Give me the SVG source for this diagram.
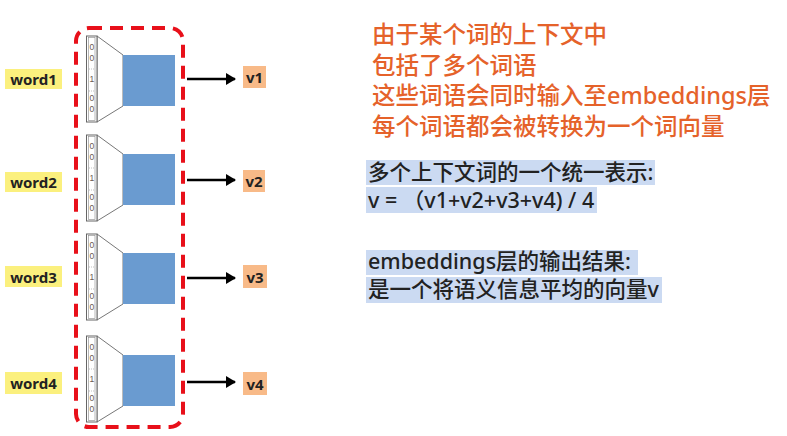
<svg xmlns="http://www.w3.org/2000/svg" xmlns:xlink="http://www.w3.org/1999/xlink" width="787" height="436" viewBox="0 0 787 436">
<style>
.lbl{font-family:"Noto Sans","Noto Sans CJK SC",sans-serif;font-weight:bold;font-size:15px;fill:#222;text-anchor:middle;dominant-baseline:central}
.wbox{fill:#FBF07E}
.vbox{fill:#F8BA88}
.bit{font-family:"Liberation Sans",sans-serif;font-size:8.5px;fill:#6a5a50;text-anchor:middle;dominant-baseline:central}
.orange{font-family:"Noto Sans","Noto Sans CJK SC",sans-serif;font-size:23.5px;font-weight:500;fill:#E5622A}
.black{font-family:"Noto Sans","Noto Sans CJK SC",sans-serif;font-size:21.5px;font-weight:500;fill:#222}
.hl{fill:#CBDAF2}
.conn{stroke:#000;stroke-width:2.5;fill:none}
</style>
<defs>
<marker id="ah" markerWidth="11" markerHeight="12" refX="9" refY="6" orient="auto" markerUnits="userSpaceOnUse">
<path d="M0,0 L10,6 L0,12 Z" fill="#000"/>
</marker>
<g id="enc">
<polygon points="97,0 123,19 123,70 97,86" fill="#fff" stroke="#777" stroke-width="1"/>
<rect x="123" y="19" width="52" height="51" fill="#6A9BD0"/>
<rect x="86.5" y="0" width="10.5" height="86" fill="#fff" stroke="#666" stroke-width="1"/>
<rect x="88.5" y="1.5" width="6.5" height="83" fill="none" stroke="#888" stroke-width="0.6"/>
<text class="bit" x="91.8" y="11">0</text>
<text class="bit" x="91.8" y="22">0</text>
<line x1="89" y1="33" x2="95" y2="33" stroke="#999" stroke-width="0.6" stroke-dasharray="1,1"/>
<text class="bit" x="91.8" y="43">1</text>
<line x1="89" y1="55" x2="95" y2="55" stroke="#999" stroke-width="0.6" stroke-dasharray="1,1"/>
<text class="bit" x="91.8" y="62">0</text>
<text class="bit" x="91.8" y="73">0</text>
</g>
</defs>
<rect width="787" height="436" fill="#fff"/>
<g id="node-word1"><rect class="wbox" x="5" y="69" width="57" height="20"/><text class="lbl" x="33.5" y="79">word1</text></g>
<g id="node-word2"><rect class="wbox" x="5" y="172" width="57" height="20"/><text class="lbl" x="33.5" y="182">word2</text></g>
<g id="node-word3"><rect class="wbox" x="5" y="266" width="57" height="21"/><text class="lbl" x="33.5" y="276.5">word3</text></g>
<g id="node-word4"><rect class="wbox" x="5" y="372" width="57" height="22"/><text class="lbl" x="33.5" y="383">word4</text></g>
<g id="node-embed1"><use xlink:href="#enc" transform="translate(0,36)"/></g>
<g id="node-embed2"><use xlink:href="#enc" transform="translate(0,135)"/></g>
<g id="node-embed3"><use xlink:href="#enc" transform="translate(0,234)"/></g>
<g id="node-embed4"><use xlink:href="#enc" transform="translate(0,336)"/></g>
<g id="node-group"><rect x="76" y="28" width="107" height="399" rx="13" ry="13" fill="none" stroke="#E8101A" stroke-width="4" stroke-dasharray="13,8"/></g>
<g id="node-v1"><rect class="vbox" x="243" y="66" width="23" height="22"/><text class="lbl" x="254.5" y="77">v1</text></g>
<g id="node-v2"><rect class="vbox" x="243" y="170" width="22" height="22"/><text class="lbl" x="254" y="181">v2</text></g>
<g id="node-v3"><rect class="vbox" x="243" y="265" width="24" height="23"/><text class="lbl" x="255" y="276.5">v3</text></g>
<g id="node-v4"><rect class="vbox" x="243" y="372" width="24" height="23"/><text class="lbl" x="255" y="383.5">v4</text></g>
<g id="connectors">
<line class="conn" x1="187" y1="79" x2="235" y2="79" marker-end="url(#ah)"/>
<line class="conn" x1="187" y1="180" x2="235" y2="180" marker-end="url(#ah)"/>
<line class="conn" x1="187" y1="278" x2="235" y2="278" marker-end="url(#ah)"/>
<line class="conn" x1="187" y1="382" x2="235" y2="382" marker-end="url(#ah)"/>
</g>
<g id="notes">
<text class="orange" x="372" y="43">由于某个词的上下文中</text>
<text class="orange" x="372" y="74">包括了多个词语</text>
<text class="orange" x="372" y="104">这些词语会同时输入至embeddings层</text>
<text class="orange" x="372" y="135">每个词语都会被转换为一个词向量</text>
<rect class="hl" x="366" y="160" width="289" height="25"/>
<rect class="hl" x="366" y="187" width="231" height="26"/>
<rect class="hl" x="366" y="250" width="272" height="25"/>
<rect class="hl" x="366" y="277" width="296" height="26"/>
<text class="black" x="368" y="180">多个上下文词的一个统一表示:</text>
<text class="black" x="368" y="208">v = （v1+v2+v3+v4) / 4</text>
<text class="black" x="368" y="269" font-size="21">embeddings层的输出结果:</text>
<text class="black" x="368" y="297">是一个将语义信息平均的向量v</text>
</g>
</svg>
